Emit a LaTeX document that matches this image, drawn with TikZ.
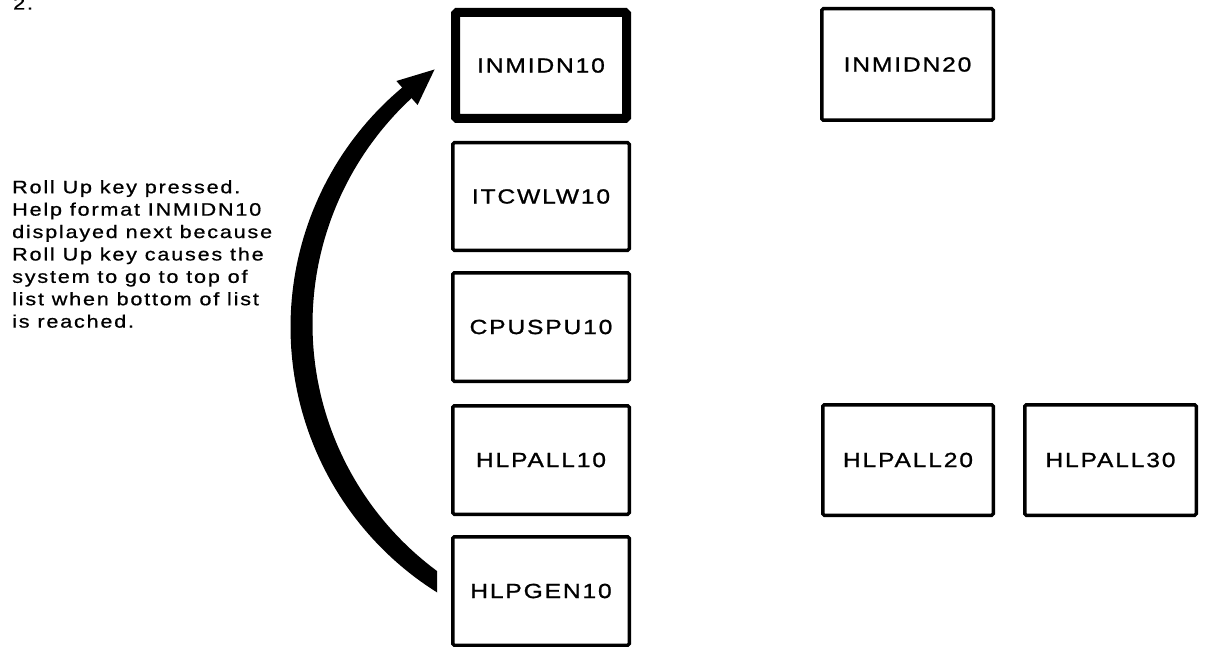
\documentclass[tikz,border=0pt]{standalone}
\usepackage{fontspec}
\setmainfont{Liberation Sans}
\newfontfamily\lblfont[FakeStretch=1.2,LetterSpace=9,FakeBold=1]{Liberation Sans}
\newfontfamily\dscfont[FakeStretch=1.2,LetterSpace=10,FakeBold=0.8]{Liberation Sans}
\begin{document}
\begin{tikzpicture}[x=1pt,y=-1pt,
  box/.style={draw, line width=3.5pt, minimum width=176.5pt, minimum height=108.5pt,
    inner sep=0pt, rounded corners=1.5pt, font=\lblfont\fontsize{20.5}{24}\selectfont},
  thickbox/.style={box, line width=9pt, minimum width=171pt, minimum height=106pt},
  desc/.style={align=left, inner sep=0pt, font=\dscfont\fontsize{18}{22.4}\selectfont}
]
\useasboundingbox (0,0) rectangle (1210,647);
% boxes
\node[thickbox] (n10) at (541,65.5) {INMIDN10};
\node[box, minimum height=107.5pt] (itc) at (541,196.5) {ITCWLW10};
\node[box] (cpu) at (541,327) {CPUSPU10};
\node[box] (h10) at (541,460) {HLPALL10};
\node[box] (gen) at (541,591) {HLPGEN10};
\node[box, minimum width=171.5pt, minimum height=111.5pt] (n20) at (907.5,64.5) {INMIDN20};
\node[box, minimum width=170.5pt, minimum height=110.5pt] (h20) at (908,460) {HLPALL20};
\node[box, minimum width=171.5pt, minimum height=110.5pt] (h30) at (1110.5,460) {HLPALL30};
% heading fragment
\node[anchor=base west, inner sep=0pt, font=\dscfont\fontsize{18}{22}\selectfont] (num) at (13,9.5) {2.};
% description
\node[desc, anchor=north west] (txt) at (12,180) {Roll Up key pressed.\\Help format INMIDN10\\displayed next because\\Roll Up key causes the\\system to go to top of\\list when bottom of list\\is reached.};
% curved arrow
\coordinate (ctr) at (611.5,325.7);
\begin{scope}
\clip (0,0) rectangle (437,647);
\fill plot[domain=118:230, samples=90, variable=\t]
  ({611.5+(310+0.5*(22-0.0023*(\t-180)*(\t-180)-0.05*(\t-180)))*cos(\t)},
   {325.7+(310+0.5*(22-0.0023*(\t-180)*(\t-180)-0.05*(\t-180)))*sin(\t)})
  -- plot[domain=230:118, samples=90, variable=\t]
  ({611.5+(310-0.5*(22-0.0023*(\t-180)*(\t-180)-0.05*(\t-180)))*cos(\t)},
   {325.7+(310-0.5*(22-0.0023*(\t-180)*(\t-180)-0.05*(\t-180)))*sin(\t)})
  -- cycle;
\end{scope}
\coordinate (tip) at (434.5,69.5);
\fill (tip) -- (396.4,81) -- (417.6,105) -- cycle;
\end{tikzpicture}
\end{document}
